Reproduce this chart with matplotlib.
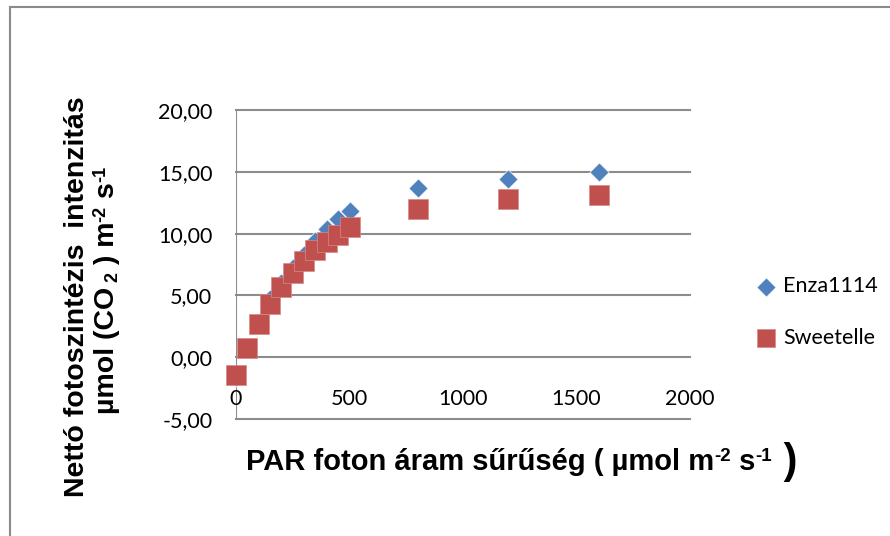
import matplotlib
matplotlib.use('Agg')
import matplotlib.pyplot as plt
from matplotlib.patches import Rectangle
from matplotlib.transforms import offset_copy

# Data
par = [0, 50, 100, 150, 200, 250, 300, 350, 400, 450, 500, 800, 1200, 1600]
enza1114 = [-1.6, 0.8, 2.8, 4.7, 6.0, 7.2, 8.3, 9.4, 10.4, 11.2, 11.85, 13.7, 14.45, 15.0]
sweetelle = [-1.45, 0.75, 2.7, 4.3, 5.65, 6.8, 7.8, 8.7, 9.35, 9.9, 10.5, 12.0, 12.8, 13.15]

x_ticks = [0, 500, 1000, 1500, 2000]
y_ticks = [-5, 0, 5, 10, 15, 20]

blue = '#4F81BD'
red = '#C0504D'
grid_grey = '#8C8C8C'
tick_font = dict(fontfamily='Lato', fontsize=15.5)
title_font = dict(fontfamily='Liberation Sans', fontweight='bold')

W, H = 890, 536
fig = plt.figure(figsize=(W / 100, H / 100), dpi=100)
renderer = fig.canvas.get_renderer()


def draw_runs(cx, cy, runs, vertical=False):
    """Draw text pieces (text, size, baseline shift px) one after another,
    centred on (cx, cy) in pixels. vertical=True writes bottom to top."""
    pieces = []
    total = 0
    for txt, size, shift in runs:
        t = fig.text(0, 0, txt, fontsize=size, ha='left', va='baseline',
                     rotation=90 if vertical else 0, rotation_mode='anchor', **title_font)
        bb = t.get_window_extent(renderer)
        adv = bb.height if vertical else bb.width
        pieces.append((t, total, shift))
        total += adv
    start = -total / 2
    for t, off, shift in pieces:
        if vertical:
            tr = offset_copy(fig.transFigure, fig=fig, x=-shift, y=start + off, units='dots')
        else:
            tr = offset_copy(fig.transFigure, fig=fig, x=start + off, y=shift, units='dots')
        t.set_transform(tr)
        t.set_position((cx / W, 1 - cy / H))


# chart border (only top/left visible in the reference)
fig.patches.append(Rectangle((10 / W, -0.1), 1.2, 1 - 7 / H + 0.1, transform=fig.transFigure,
                             fill=False, edgecolor='#8A8A8A', linewidth=1.5))

ax = fig.add_axes([236 / W, 1 - 419 / H, (690 - 236) / W, (419 - 110) / H])
ax.set_xlim(0, 2000)
ax.set_ylim(-5, 20)

for yv in y_ticks:
    ax.axhline(yv, color=grid_grey, linewidth=1.5, zorder=1, clip_on=False)
ax.axvline(0, color=grid_grey, linewidth=1.5, zorder=1)

for s in ax.spines.values():
    s.set_visible(False)

ax.scatter(par, enza1114, marker='D', s=95, color=blue, edgecolors='white', linewidths=0.5,
           zorder=3, clip_on=False, label='Enza1114')
ax.scatter(par, sweetelle, marker='s', s=200, color=red, edgecolors='#D98A88', linewidths=0.5,
           zorder=4, clip_on=False, label='Sweetelle')

ax.set_yticks(y_ticks)
ax.set_yticklabels([f'{v:.2f}'.replace('.', ',') for v in y_ticks], **tick_font)
ax.tick_params(axis='y', length=0, pad=17)

ax.set_xticks([])
for xv in x_ticks:
    ax.text(xv, -3.4, str(xv), ha='center', va='center', **tick_font)

leg = ax.legend(loc='center left', bbox_to_anchor=(742 / W, 1 - 312 / H),
                bbox_transform=fig.transFigure, frameon=False, handletextpad=0.2,
                labelspacing=1.45, borderpad=0, handlelength=1.2, scatterpoints=1,
                prop={'family': 'Lato', 'size': 15.5})
leg.legend_handles[0].set_sizes([95])
leg.legend_handles[1].set_sizes([170])

# y axis title, two lines
draw_runs(84, 297, [('Nettó fotoszintézis  intenzitás', 20.5, 0)], vertical=True)
draw_runs(114, 290, [('µmol (CO', 20.5, 0), (' 2', 13, -4), (' ) m', 20.5, 0), ('-2', 13, 9),
                     (' s', 20.5, 0), ('-1', 13, 9)], vertical=True)

# x axis title with larger closing bracket
draw_runs(522, 470, [('PAR foton áram sűrűség ( µmol m', 21, 0), ('-2', 13.5, 9),
                     (' s', 21, 0), ('-1', 13.5, 9), (' )', 30, -3)])

fig.savefig('out.png', dpi=100)
